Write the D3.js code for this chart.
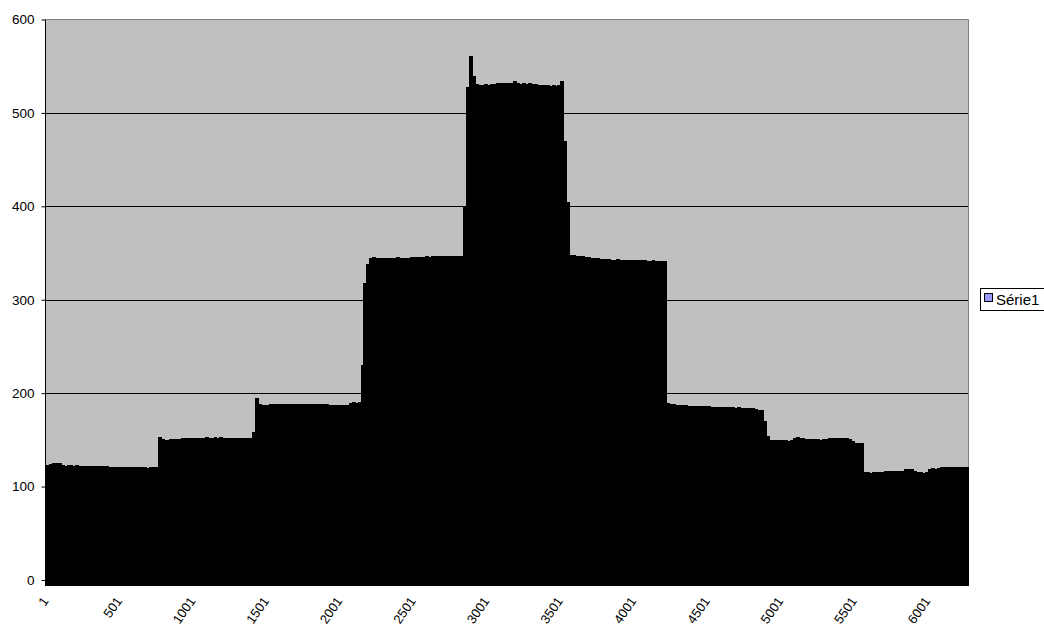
<!DOCTYPE html>
<html>
<head>
<meta charset="utf-8">
<script src="https://cdn.jsdelivr.net/npm/d3@7"></script>
<style>
  html, body { margin: 0; padding: 0; background: #ffffff; overflow: hidden; }
  svg { display: block; font-family: "Liberation Sans", Arial, sans-serif; }
</style>
</head>
<body>
<svg id="chart" width="1044" height="626"></svg>
<script>
// Series name shown in the legend
const seriesName = "Série1";

// Number of categories on the horizontal axis and the spacing between stored readings
const totalCategories = 6280;
const sampleStep = 20;

// Série1 readings, one per 20 categories (categories 1, 21, 41, ...)
const levelLow = [
  123.2, 124.0, 125.0, 125.6, 124.8, 122.8, 122.5, 122.9, 122.6, 122.4,
  122.7, 122.2, 122.0, 122.3, 122.1, 121.8, 122.0, 121.7, 121.9, 121.5,
  121.6, 121.2, 121.0, 121.3, 120.9, 121.1, 120.8, 121.0, 120.6, 120.9,
  120.7, 120.5, 120.8, 120.6, 120.4, 120.7, 120.5, 120.6
];
const levelStep150 = [
  153.0, 150.5, 150.0, 150.3, 150.8, 150.6, 151.0, 151.4, 151.6, 151.9,
  151.7, 152.0, 151.8, 152.2, 152.4, 152.1, 152.6, 152.3, 152.5, 152.7,
  152.4, 152.6, 152.3, 152.5, 152.2, 152.4, 152.0, 152.3, 152.1, 151.9,
  152.2, 152.0, 158.0, 194.5
];
const levelStep188 = [
  188.0, 187.3, 187.6, 187.5, 187.9, 188.3, 188.5, 188.2, 188.7, 188.4,
  188.6, 188.3, 188.8, 188.5, 188.2, 188.6, 188.4, 188.7, 188.3, 188.5,
  188.1, 188.4, 187.9, 188.2, 187.6, 187.3, 187.0, 187.4, 187.1, 187.3,
  187.8, 189.6, 190.2, 190.0, 190.4, 230.0, 318.0, 338.0
];
const levelStep345 = [
  344.5, 345.3, 345.0, 344.8, 345.2, 345.0, 344.7, 345.1, 344.9, 345.3,
  345.0, 344.6, 345.2, 344.8, 345.4, 345.6, 345.9, 346.2, 345.8, 346.4,
  346.1, 346.6, 346.3, 346.7, 346.4, 346.9, 346.5, 346.8, 346.6, 347.0,
  346.7, 346.9, 400.0, 528.0, 561.0, 539.0
];
const levelPeak = [
  531.0, 530.4, 530.2, 530.6, 530.3, 530.7, 530.9, 531.8, 532.1, 531.9,
  532.3, 532.0, 532.2, 534.0, 531.7, 531.4, 531.6, 531.3, 531.5, 531.2,
  530.8, 529.9, 529.6, 529.8, 529.4, 529.3, 529.7, 529.2, 529.5, 534.6,
  470.0, 405.0
];
const levelDown345 = [
  348.0, 347.6, 347.2, 346.9, 346.4, 346.0, 345.6, 345.0, 344.7, 344.3,
  344.0, 343.5, 343.2, 343.6, 343.0, 342.8, 343.1, 342.7, 342.9, 342.5,
  342.8, 342.6, 342.3, 342.5, 342.1, 342.4, 342.0, 341.8, 342.2, 341.9,
  341.6, 342.0, 341.5
];
const levelDown186 = [
  190.0, 188.8, 188.2, 187.6, 187.1, 186.8, 186.9, 186.5, 186.7, 186.3,
  186.4, 186.0, 186.2, 185.8, 185.9, 185.5, 185.7, 185.3, 185.4, 185.1,
  185.2, 184.9, 184.8, 184.6, 184.7, 184.4, 184.3, 184.5, 184.1, 183.8,
  183.0, 182.5, 182.0, 170.0, 154.0
];
const levelDown150 = [
  149.4, 149.7, 149.4, 149.8, 149.5, 149.6, 149.3, 149.9, 151.5, 152.9,
  151.8, 151.6, 150.7, 150.5, 150.9, 150.6, 150.8, 150.4, 150.7, 150.9,
  151.6, 151.9, 151.7, 151.8, 151.5, 151.9, 151.6, 151.4, 149.3, 146.5,
  146.2, 146.4
];
const levelTail = [
  115.2, 115.5, 115.0, 115.3, 115.6, 115.4, 116.0, 116.3, 116.6, 116.2,
  116.5, 117.0, 117.2, 116.8, 118.3, 118.7, 118.4, 116.3, 115.8, 116.1,
  115.0, 115.2, 119.0, 119.4, 119.2, 119.6, 120.5, 120.8, 120.6, 120.9,
  120.7, 120.5, 120.8, 120.6, 120.7, 120.5
];

const values = [].concat(levelLow, levelStep150, levelStep188, levelStep345,
  levelPeak, levelDown345, levelDown186, levelDown150, levelTail);

// Category number of each reading
const categories = values.map((_, i) => 1 + i * sampleStep);

// Axis labels
const xTickLabels = ["1", "501", "1001", "1501", "2001", "2501", "3001",
  "3501", "4001", "4501", "5001", "5501", "6001"];
const yTickValues = [0, 100, 200, 300, 400, 500, 600];

// Layout
const plotLeft = 46, plotRight = 969, plotTop = 19.5, plotBottom = 586;
const zeroY = 580;

const svg = d3.select("#chart");

const x = d3.scaleLinear()
  .domain([1, totalCategories + 1])
  .range([plotLeft, plotRight]);

const y = d3.scaleLinear()
  .domain([0, 600])
  .range([zeroY, plotTop]);

// Plot area background
svg.append("rect")
  .attr("x", plotLeft).attr("y", plotTop)
  .attr("width", plotRight - plotLeft).attr("height", plotBottom - plotTop)
  .attr("fill", "#c0c0c0");

// Horizontal gridlines
svg.append("g")
  .selectAll("line")
  .data(yTickValues.filter(v => v > 0 && v < 600))
  .join("line")
  .attr("x1", plotLeft).attr("x2", plotRight)
  .attr("y1", d => Math.round(y(d)) + 0.5)
  .attr("y2", d => Math.round(y(d)) + 0.5)
  .attr("stroke", "#000000")
  .attr("stroke-width", 1);

// Plot area border (top and right)
svg.append("path")
  .attr("d", `M${plotLeft},${plotTop}H${plotRight - 0.5}V${plotBottom}`)
  .attr("fill", "none")
  .attr("stroke", "#808080")
  .attr("stroke-width", 1);

// Columns
svg.append("g")
  .attr("shape-rendering", "crispEdges")
  .selectAll("rect")
  .data(categories.map((c, i) => ({ c, v: values[i] })))
  .join("rect")
  .attr("x", d => x(d.c))
  .attr("width", d => Math.min(x(d.c + sampleStep) + 1, plotRight) - x(d.c))
  .attr("y", d => y(d.v))
  .attr("height", d => plotBottom - y(d.v))
  .attr("fill", "#000000");

// Vertical axis
const yAxis = d3.axisLeft(y)
  .tickValues(yTickValues)
  .tickSize(4)
  .tickPadding(7)
  .tickFormat(d3.format("d"));

const yAxisG = svg.append("g")
  .attr("transform", `translate(${plotLeft - 0.5},0)`)
  .call(yAxis);
yAxisG.select(".domain")
  .attr("d", `M0,${plotTop}V${plotBottom}`)
  .attr("stroke", "#000000");
yAxisG.selectAll(".tick line").attr("stroke", "#000000");
yAxisG.selectAll(".tick text")
  .attr("fill", "#000000")
  .style("font-size", "13.5px")
  .style("font-family", '"Liberation Sans", Arial, sans-serif');

// Horizontal axis labels, rotated
const xTickCats = xTickLabels.map(Number);
svg.append("g")
  .selectAll("text")
  .data(xTickCats)
  .join("text")
  .attr("transform", d => `translate(${x(d + 0.5) + 3},${plotBottom + 15}) rotate(-55)`)
  .attr("text-anchor", "end")
  .attr("fill", "#000000")
  .style("font-size", "13px")
  .text((d, i) => xTickLabels[i]);

// Legend
const legend = svg.append("g").attr("transform", "translate(980.5,288.5)");
legend.append("rect")
  .attr("width", 100).attr("height", 22)
  .attr("fill", "#ffffff")
  .attr("stroke", "#000000");
legend.append("rect")
  .attr("x", 4).attr("y", 5)
  .attr("width", 8).attr("height", 8)
  .attr("fill", "#9999ff")
  .attr("stroke", "#000000");
legend.append("text")
  .attr("x", 15.5).attr("y", 16.5)
  .attr("fill", "#000000")
  .style("font-size", "15px")
  .text(seriesName);
</script>
</body>
</html>
